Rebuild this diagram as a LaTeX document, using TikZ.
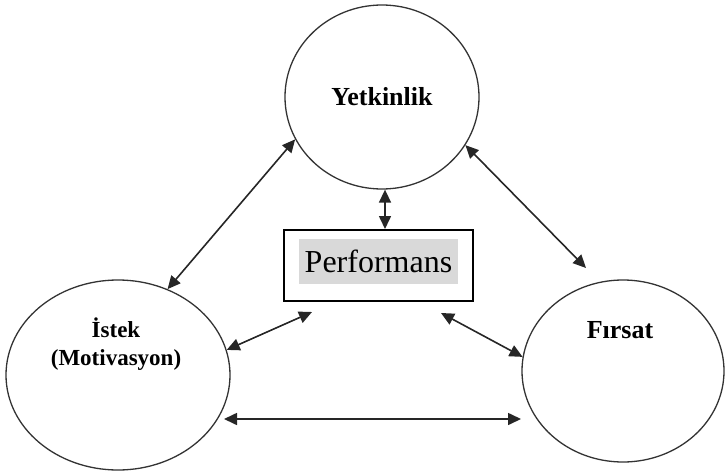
\documentclass[tikz,border=0pt]{standalone}
\usepackage{fontspec}
\setmainfont{Liberation Serif}
\usetikzlibrary{shapes.geometric,arrows.meta,calc}
\begin{document}
\begin{tikzpicture}[x=1pt,y=-1pt,
 circ/.style={ellipse,draw=black!80,line width=1.3pt,inner sep=0pt},
 lbl/.style={font=\bfseries\fontsize{26}{28}\selectfont,align=center,inner sep=0pt},
 arr/.style={{Triangle[length=13pt,width=12pt]}-{Triangle[length=13pt,width=12pt]},line width=1.6pt,draw=black!85},
]
\useasboundingbox (0,0) rectangle (726,471);
\node[circ,minimum width=194pt,minimum height=184pt] (top) at (382,97) {};
\node[circ,minimum width=224pt,minimum height=190pt] (left) at (118,375) {};
\node[circ,minimum width=202pt,minimum height=182pt] (right) at (623,371) {};
\node[lbl] (tl) at (382,97) {Yetkinlik};
\node[lbl,font=\bfseries\fontsize{23}{28}\selectfont] (ll) at (116,344) {İstek\\(Motivasyon)};
\node[lbl] (rl) at (620,330) {Fırsat};
\node[draw=black,line width=2pt,minimum width=189pt,minimum height=71pt,inner sep=0pt] (perf) at (378.5,265.5) {};
\node[fill=black!15,minimum width=159pt,minimum height=45pt,inner sep=0pt,font=\fontsize{32}{34}\selectfont] (pg) at (378.5,261.5) {Performans};
\draw[arr] (top.206) -- (left.60);
\coordinate (p1) at ($(perf.north)+(6.5,0)$);
\draw[arr] (top.south -| p1) -- (p1);
\coordinate (c3) at (586,268);
\draw[arr] (top.330) -- (c3);
\coordinate (c4) at (312,312);
\draw[arr] (left.13) -- (c4);
\coordinate (c5) at (441,313);
\draw[arr] (c5) -- (right.172);
\coordinate (h1) at (224,419);
\coordinate (h2) at (521,419);
\draw[arr] (h1) -- (h2);
\end{tikzpicture}
\end{document}
